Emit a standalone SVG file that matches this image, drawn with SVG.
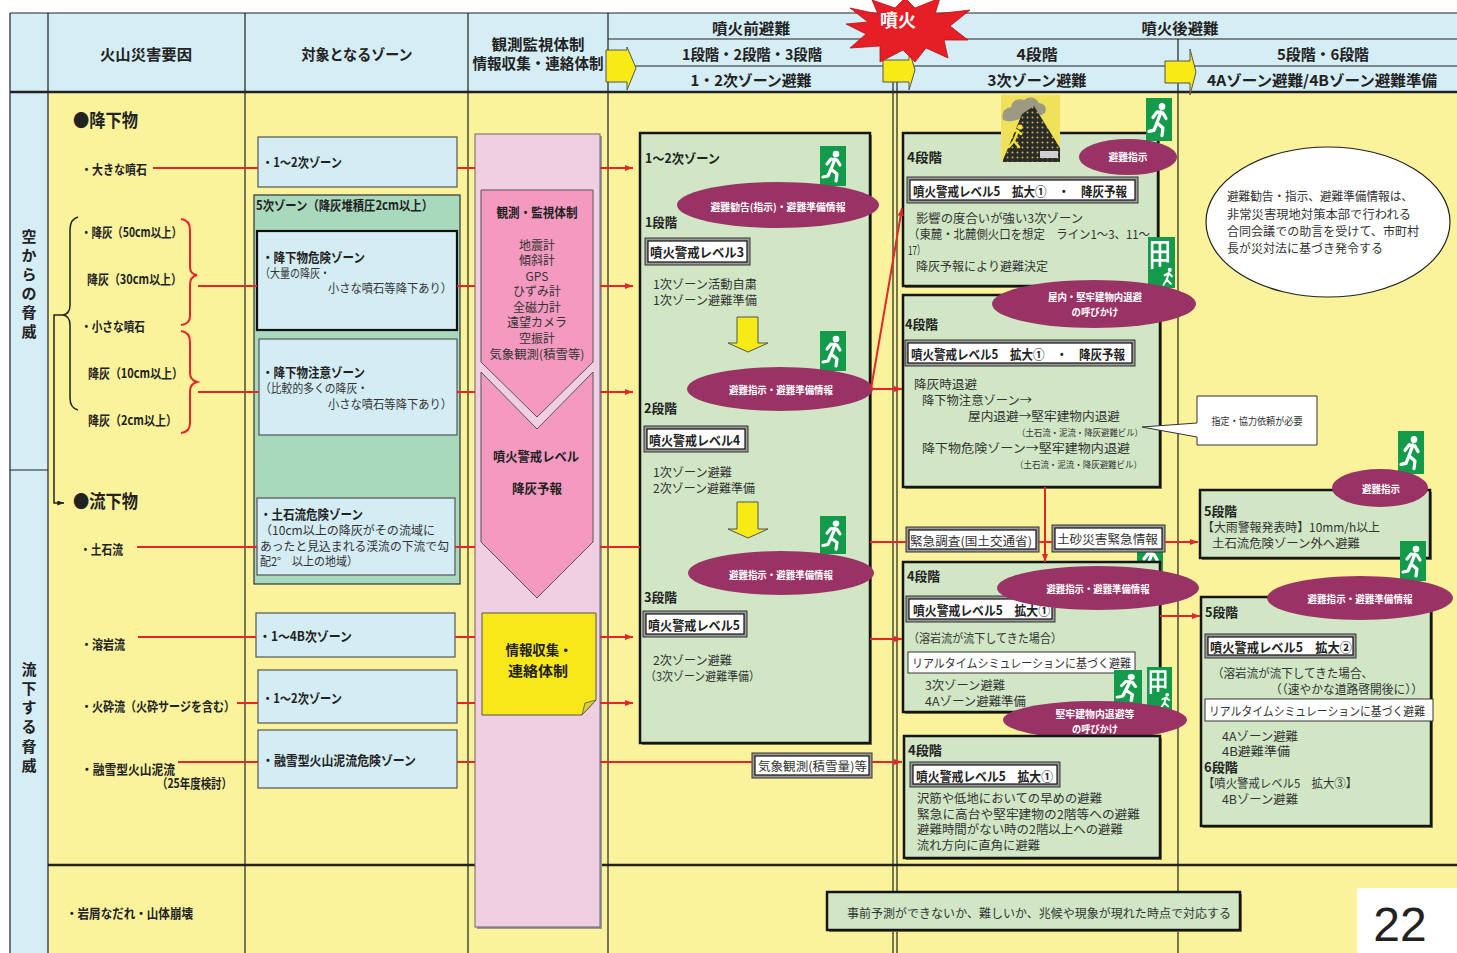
<svg xmlns="http://www.w3.org/2000/svg" width="1457" height="953" viewBox="0 0 1457 953">
<defs>
<style>
text{font-family:"Noto Sans CJK JP","Noto Sans CJK SC",sans-serif;dominant-baseline:central;fill:#222}
.h{font-size:15px;font-weight:700;text-anchor:middle}
.b{font-size:13px;font-weight:700}
.big{font-size:18px;font-weight:700}
.r{font-size:12px;font-weight:400;fill:#333}
.s{font-size:9px;font-weight:400;fill:#333}
.w{font-size:10px;font-weight:700;fill:#fff;text-anchor:middle}
.c{text-anchor:middle}
.vt{font-size:15px;font-weight:700;text-anchor:middle}
.red{stroke:#e8242b;stroke-width:2;fill:none}
.blk{stroke:#222;stroke-width:1.5;fill:none}
.zone{fill:#d4ecf3;stroke:#555;stroke-width:1.2}
.stage{fill:#d0e6c4;stroke:#151515;stroke-width:2.5}
.shadow{fill:#86863f}
.ell{fill:#993366}
.lvo{fill:#9a9a9a;stroke:#333;stroke-width:1}
.lvi{fill:#fff;stroke:#111;stroke-width:1.2}
.grid{stroke:#222;stroke-width:1.2;fill:none}
.thick{stroke:#222;stroke-width:2.6;fill:none}
.yarrow{fill:#f7ea15;stroke:#555;stroke-width:1}
.pinkc{fill:#f49ac0;stroke:#555;stroke-width:1}
.note{font-size:14px;font-weight:700;text-anchor:middle}
</style>
<marker id="ah" viewBox="0 0 8 6" refX="8" refY="3" markerWidth="8" markerHeight="6" markerUnits="userSpaceOnUse" orient="auto"><path d="M0,0L8,3L0,6z" fill="#e8242b"/></marker>
<marker id="ahk" viewBox="0 0 8 6" refX="8" refY="3" markerWidth="7" markerHeight="5" markerUnits="userSpaceOnUse" orient="auto"><path d="M0,0L8,3L0,6z" fill="#222"/></marker>
<symbol id="exit" viewBox="0 0 26 40" preserveAspectRatio="none">
<rect width="26" height="40" fill="#139a4a"/>
<circle cx="16" cy="8" r="3.3" fill="#fff"/>
<path d="M15,13 L11,23 M7,18 L11,13 L17,14 L20,19 M11,23 L17,28 L16,35 M11,23 L8,30 L3,31" stroke="#fff" stroke-width="3.2" fill="none" stroke-linecap="round" stroke-linejoin="round"/>
</symbol>
<symbol id="shelter" viewBox="0 0 26 48" preserveAspectRatio="none">
<rect width="26" height="48" fill="#139a4a"/>
<path d="M4,30 V5 H19 V24 M11.5,5 V28 M4,14 H19 M4,22 H19" stroke="#fff" stroke-width="2.6" fill="none"/>
<circle cx="21" cy="31" r="2" fill="#fff"/>
<path d="M20,34 L18,40 M16,36 L20,34 L23,37 M18,40 L22,44 M18,40 L15,45" stroke="#fff" stroke-width="2" fill="none" stroke-linecap="round"/>
</symbol>
<pattern id="dots" width="5" height="5" patternUnits="userSpaceOnUse"><rect width="5" height="5" fill="#2a2a2a"/><circle cx="2.5" cy="2.5" r="1" fill="#c9b940"/></pattern>
</defs>

<rect width="1457" height="953" fill="#fff"/>

<!-- table background -->
<g id="table">
<rect x="10" y="13" width="1447" height="79" fill="#d5edf5"/>
<rect x="10" y="92" width="38" height="861" fill="#d5edf5"/>
<rect x="48" y="92" width="1409" height="861" fill="#faf39c"/>
<path class="grid" d="M10,13 H1457 M608,39 H1457 M608,66 H1457 M10,13 V953 M48,13 V953 M245,13 V953 M468,13 V953 M608,13 V953 M1178,39 V953 M893,62 V953 M897,62 V953 M10,470 H48"/>
<path class="thick" d="M10,92 H1457 M48,865 H1457"/>
</g>

<!-- header -->
<g id="header">
<text class="h" x="146" y="53" textLength="92" lengthAdjust="spacingAndGlyphs">火山災害要因</text>
<text class="h" x="357" y="53" textLength="111" lengthAdjust="spacingAndGlyphs">対象となるゾーン</text>
<text class="h" x="538" y="43" textLength="93" lengthAdjust="spacingAndGlyphs">観測監視体制</text>
<text class="h" x="538" y="62" textLength="131" lengthAdjust="spacingAndGlyphs">情報収集・連絡体制</text>
<text class="h" x="751" y="27" textLength="78" lengthAdjust="spacingAndGlyphs">噴火前避難</text>
<text class="h" x="1180" y="27" textLength="77" lengthAdjust="spacingAndGlyphs">噴火後避難</text>
<text class="h" x="752" y="53" textLength="140" lengthAdjust="spacingAndGlyphs">1段階・2段階・3段階</text>
<text class="h" x="1037" y="53" textLength="41" lengthAdjust="spacingAndGlyphs">4段階</text>
<text class="h" x="1323" y="53" textLength="92" lengthAdjust="spacingAndGlyphs">5段階・6段階</text>
<text class="h" x="751" y="79" textLength="121" lengthAdjust="spacingAndGlyphs">1・2次ゾーン避難</text>
<text class="h" x="1037" y="79" textLength="99" lengthAdjust="spacingAndGlyphs">3次ゾーン避難</text>
<text class="h" x="1322" y="79" textLength="230" lengthAdjust="spacingAndGlyphs">4Aゾーン避難/4Bゾーン避難準備</text>
<path class="yarrow" d="M606,50 H627 V47 L636,68 L627,90 V82 H606 Z"/>
<path class="yarrow" d="M883,60 H909 V50 L915,70 L909,90 V82 H883 Z"/>
<path class="yarrow" d="M1165,61 H1190 V49 L1196,72 L1190,95 V83 H1165 Z"/>
<path d="M850,8 L878,14 L872,0 L895,8 L905,-2 L915,8 L940,-2 L935,14 L970,10 L950,26 L968,40 L944,40 L948,58 L926,48 L915,62 L903,50 L880,62 L880,46 L850,48 L866,34 L846,24 L868,22 Z" fill="#e61e25" stroke="#b3141a" stroke-width="0.8"/>
<text x="898" y="19" class="c" style="font-size:18px;font-weight:700;fill:#fff">噴火</text>
</g>

<!-- left-most category labels -->
<g id="category">
<text class="vt" x="29" y="235">空</text><text class="vt" x="29" y="254">か</text><text class="vt" x="29" y="273">ら</text><text class="vt" x="29" y="292">の</text><text class="vt" x="29" y="311">脅</text><text class="vt" x="29" y="330">威</text>
<text class="vt" x="29" y="668">流</text><text class="vt" x="29" y="687">下</text><text class="vt" x="29" y="706">す</text><text class="vt" x="29" y="725">る</text><text class="vt" x="29" y="745">脅</text><text class="vt" x="29" y="764">威</text>
</g>

<!-- hazard factors -->
<g id="factors">
<text class="big" x="73" y="119" textLength="65" lengthAdjust="spacingAndGlyphs">●降下物</text>
<text class="b" x="81" y="168" textLength="66" lengthAdjust="spacingAndGlyphs">・大きな噴石</text>
<text class="b" x="81" y="231" textLength="101" lengthAdjust="spacingAndGlyphs">・降灰（50cm以上）</text>
<text class="b" x="87" y="278" textLength="95" lengthAdjust="spacingAndGlyphs">降灰（30cm以上）</text>
<text class="b" x="81" y="325" textLength="64" lengthAdjust="spacingAndGlyphs">・小さな噴石</text>
<text class="b" x="88" y="372" textLength="95" lengthAdjust="spacingAndGlyphs">降灰（10cm以上）</text>
<text class="b" x="88" y="419" textLength="89" lengthAdjust="spacingAndGlyphs">降灰（2cm以上）</text>
<text class="big" x="73" y="500" textLength="65" lengthAdjust="spacingAndGlyphs">●流下物</text>
<text class="b" x="80" y="548" textLength="43" lengthAdjust="spacingAndGlyphs">・土石流</text>
<text class="b" x="81" y="643" textLength="44" lengthAdjust="spacingAndGlyphs">・溶岩流</text>
<text class="b" x="81" y="705" textLength="154" lengthAdjust="spacingAndGlyphs">・火砕流（火砕サージを含む）</text>
<text class="b" x="81" y="768" textLength="94" lengthAdjust="spacingAndGlyphs">・融雪型火山泥流</text>
<text class="b" x="157" y="782" textLength="75" lengthAdjust="spacingAndGlyphs">（25年度検討）</text>
<text class="b" x="66" y="912" textLength="127" lengthAdjust="spacingAndGlyphs">・岩屑なだれ・山体崩壊</text>
<path class="blk" d="M78,217 Q70,219 70,230 L70,305 Q70,314 63,315 Q70,316 70,325 L70,398 Q70,408 78,410"/>
<path class="blk" d="M63,315 H54 V503 H64" marker-end="url(#ahk)"/>
<path class="red" d="M181,219 Q190,220 190,230 L190,267 Q190,274 197,275 Q190,277 190,284 L190,316 Q190,324 181,325"/>
<path class="red" d="M181,331 Q190,332 190,342 L190,373 Q190,380 197,382 Q190,384 190,391 L190,423 Q190,432 181,433"/>
</g>

<!-- zone boxes -->
<g id="zone-1-2a">
<rect class="zone" x="258" y="137" width="199" height="50"/>
<text class="b" x="262" y="161" textLength="80" lengthAdjust="spacingAndGlyphs">・1～2次ゾーン</text>
</g>
<g id="zone-5">
<rect x="254" y="195" width="206" height="389" fill="#a9d9bd" stroke="#333" stroke-width="1.2"/>
<text class="b" x="256" y="204" textLength="177" lengthAdjust="spacingAndGlyphs">5次ゾーン（降灰堆積圧2cm以上）</text>
</g>
<g id="zone-fall-danger">
<rect x="257" y="231" width="200" height="99" fill="#d4ecf3" stroke="#111" stroke-width="2.2"/>
<text class="b" x="262" y="256" textLength="103" lengthAdjust="spacingAndGlyphs">・降下物危険ゾーン</text>
<text class="r" x="260" y="272" textLength="70" lengthAdjust="spacingAndGlyphs">（大量の降灰・</text>
<text class="r" x="328" y="287" textLength="124" lengthAdjust="spacingAndGlyphs">小さな噴石等降下あり）</text>
</g>
<g id="zone-fall-caution">
<rect class="zone" x="259" y="339" width="198" height="96"/>
<text class="b" x="262" y="371" textLength="103" lengthAdjust="spacingAndGlyphs">・降下物注意ゾーン</text>
<text class="r" x="260" y="387" textLength="108" lengthAdjust="spacingAndGlyphs">（比較的多くの降灰・</text>
<text class="r" x="328" y="403" textLength="124" lengthAdjust="spacingAndGlyphs">小さな噴石等降下あり）</text>
</g>
<g id="zone-debris">
<rect class="zone" x="257" y="498" width="198" height="77"/>
<text class="b" x="260" y="513" textLength="103" lengthAdjust="spacingAndGlyphs">・土石流危険ゾーン</text>
<text class="r" x="260" y="529" textLength="175" lengthAdjust="spacingAndGlyphs">（10cm以上の降灰がその流域に</text>
<text class="r" x="260" y="545" textLength="189" lengthAdjust="spacingAndGlyphs">あったと見込まれる渓流の下流で勾</text>
<text class="r" x="260" y="560" textLength="98" lengthAdjust="spacingAndGlyphs">配2°　以上の地域）</text>
</g>
<g id="zone-1-4b">
<rect class="zone" x="256" y="613" width="199" height="44"/>
<text class="b" x="259" y="635" textLength="93" lengthAdjust="spacingAndGlyphs">・1～4B次ゾーン</text>
</g>
<g id="zone-1-2b">
<rect class="zone" x="258" y="670" width="199" height="53"/>
<text class="b" x="262" y="697" textLength="80" lengthAdjust="spacingAndGlyphs">・1～2次ゾーン</text>
</g>
<g id="zone-lahar">
<rect class="zone" x="258" y="730" width="199" height="58"/>
<text class="b" x="262" y="759" textLength="154" lengthAdjust="spacingAndGlyphs">・融雪型火山泥流危険ゾーン</text>
</g>

<!-- monitoring column -->
<g id="monitoring">
<rect x="477" y="136" width="125" height="793" fill="#999"/>
<rect x="475" y="134" width="125" height="793" fill="#f0cfe3" stroke="#666" stroke-width="1"/>
<path class="pinkc" d="M481,190 H593 V362 L537,417 L481,362 Z"/>
<text class="b c" x="537" y="211" textLength="81" lengthAdjust="spacingAndGlyphs">観測・監視体制</text>
<text class="r c" x="537" y="244">地震計</text>
<text class="r c" x="537" y="259">傾斜計</text>
<text class="r c" x="537" y="275">GPS</text>
<text class="r c" x="537" y="290">ひずみ計</text>
<text class="r c" x="537" y="306">全磁力計</text>
<text class="r c" x="537" y="321">遠望カメラ</text>
<text class="r c" x="537" y="337">空振計</text>
<text class="r c" x="537" y="353" textLength="95" lengthAdjust="spacingAndGlyphs">気象観測(積雪等)</text>
</g>
<g id="alert-level">
<path class="pinkc" d="M481,372 L537,429 L593,372 V542 L537,598 L481,542 Z"/>
<text class="b c" x="536" y="455" textLength="86" lengthAdjust="spacingAndGlyphs">噴火警戒レベル</text>
<text class="b c" x="537" y="487" textLength="50" lengthAdjust="spacingAndGlyphs">降灰予報</text>
</g>
<g id="info-network">
<path d="M482,613 H596 V700 L582,715 H482 Z" fill="#f8e81a" stroke="#555" stroke-width="1"/>
<path d="M582,715 L585,703 L596,700 Z" fill="#d8cf40" stroke="#555" stroke-width="0.8"/>
<text class="note" x="539" y="649" textLength="67" lengthAdjust="spacingAndGlyphs">情報収集・</text>
<text class="note" x="538" y="670" textLength="60" lengthAdjust="spacingAndGlyphs">連絡体制</text>
</g>

<!-- stage 1-3 -->
<g id="stage-1-3">
<rect class="shadow" x="642" y="135" width="230" height="610"/>
<rect class="stage" x="640" y="133" width="230" height="610"/>
<text class="b" x="645" y="157" textLength="75" lengthAdjust="spacingAndGlyphs">1～2次ゾーン</text>
<text class="b" x="645" y="221" textLength="32" lengthAdjust="spacingAndGlyphs">1段階</text>
<rect class="lvo" x="645" y="238" width="105" height="27"/><rect class="lvi" x="648" y="241" width="99" height="21"/>
<text class="b" x="650" y="251" textLength="94" lengthAdjust="spacingAndGlyphs">噴火警戒レベル3</text>
<text class="r" x="653" y="283" textLength="104" lengthAdjust="spacingAndGlyphs">1次ゾーン活動自粛</text>
<text class="r" x="653" y="299" textLength="104" lengthAdjust="spacingAndGlyphs">1次ゾーン避難準備</text>
<path class="yarrow" d="M737,317 H758 V343 H768 L748,352 L728,343 H737 Z"/>
<text class="b" x="644" y="407" textLength="33" lengthAdjust="spacingAndGlyphs">2段階</text>
<rect class="lvo" x="644" y="426" width="104" height="26"/><rect class="lvi" x="647" y="429" width="98" height="20"/>
<text class="b" x="649" y="439" textLength="91" lengthAdjust="spacingAndGlyphs">噴火警戒レベル4</text>
<text class="r" x="653" y="471" textLength="79" lengthAdjust="spacingAndGlyphs">1次ゾーン避難</text>
<text class="r" x="653" y="487" textLength="102" lengthAdjust="spacingAndGlyphs">2次ゾーン避難準備</text>
<path class="yarrow" d="M737,502 H758 V529 H768 L748,538 L728,529 H737 Z"/>
<text class="b" x="644" y="596" textLength="33" lengthAdjust="spacingAndGlyphs">3段階</text>
<rect class="lvo" x="643" y="611" width="104" height="26"/><rect class="lvi" x="646" y="614" width="98" height="20"/>
<text class="b" x="648" y="624" textLength="92" lengthAdjust="spacingAndGlyphs">噴火警戒レベル5</text>
<text class="r" x="653" y="659" textLength="79" lengthAdjust="spacingAndGlyphs">2次ゾーン避難</text>
<text class="r" x="645" y="675" textLength="115" lengthAdjust="spacingAndGlyphs">（3次ゾーン避難準備）</text>
<use href="#exit" x="820" y="146" width="26" height="40"/>
<use href="#exit" x="820" y="331" width="26" height="40"/>
<use href="#exit" x="820" y="516" width="26" height="38"/>
<ellipse class="ell" cx="778" cy="205" rx="101" ry="23"/>
<text class="w" x="778" y="206" textLength="135" lengthAdjust="spacingAndGlyphs">避難勧告(指示)・避難準備情報</text>
<ellipse class="ell" cx="780" cy="389" rx="93" ry="22"/>
<text class="w" x="781" y="389" textLength="104" lengthAdjust="spacingAndGlyphs">避難指示・避難準備情報</text>
<ellipse class="ell" cx="781" cy="573" rx="93" ry="22"/>
<text class="w" x="781" y="574" textLength="104" lengthAdjust="spacingAndGlyphs">避難指示・避難準備情報</text>
</g>

<g id="weather-obs">
<rect class="lvo" x="752" y="753" width="120" height="25"/><rect class="lvi" x="755" y="756" width="114" height="19"/>
<text class="r" x="758" y="765" textLength="109" lengthAdjust="spacingAndGlyphs">気象観測(積雪量)等</text>
</g>

<!-- stage 4 : ash fall -->
<g id="stage4-ash">
<rect class="shadow" x="905" y="135" width="255" height="153"/>
<rect class="stage" x="903" y="133" width="255" height="153"/>
<g id="volcano-icon">
<rect x="1001" y="95" width="59" height="67" fill="#efe15a"/>
<path d="M1003,120 q-3,-11 8,-13 q2,-10 13,-7 q9,-6 15,3 q9,1 6,10 q-9,6 -21,3 q-11,8 -21,4z" fill="#9c9a80"/>
<polygon points="1003,160 1022,114 1034,106 1060,148 1060,162 1003,162" fill="url(#dots)"/>
<circle cx="1020" cy="127" r="2.6" fill="#f0e040"/>
<path d="M1018,131 L1014,141 M1010,134 L1016,130 L1021,134 M1014,141 L1019,147 M1014,141 L1009,147" stroke="#f0e040" stroke-width="2.4" fill="none" stroke-linecap="round"/>
<rect x="1040" y="151" width="18" height="7" fill="#d0d0d0"/>
</g>
<text class="b" x="907" y="156" textLength="35" lengthAdjust="spacingAndGlyphs">4段階</text>
<rect class="lvo" x="907" y="177" width="231" height="26"/><rect class="lvi" x="910" y="180" width="225" height="20"/>
<text class="b" x="913" y="190" textLength="214" lengthAdjust="spacingAndGlyphs">噴火警戒レベル5　拡大①　・　降灰予報</text>
<text class="r" x="916" y="217" textLength="167" lengthAdjust="spacingAndGlyphs">影響の度合いが強い3次ゾーン</text>
<text class="r" x="908" y="233" textLength="242" lengthAdjust="spacingAndGlyphs">（東麓・北麓側火口を想定　ライン1～3、11～</text>
<text class="r" x="908" y="249" textLength="17" lengthAdjust="spacingAndGlyphs">17）</text>
<text class="r" x="916" y="265" textLength="132" lengthAdjust="spacingAndGlyphs">降灰予報により避難決定</text>
<use href="#exit" x="1146" y="98" width="26" height="43"/>
<use href="#shelter" x="1148" y="237" width="27" height="51"/>
<ellipse class="ell" cx="1128" cy="157" rx="49" ry="18"/>
<text class="w" x="1128" y="156" textLength="39" lengthAdjust="spacingAndGlyphs">避難指示</text>
</g>

<g id="stage4-shelter">
<rect class="shadow" x="905" y="297" width="257" height="192"/>
<rect class="stage" x="903" y="295" width="257" height="192"/>
<text class="b" x="905" y="323" textLength="33" lengthAdjust="spacingAndGlyphs">4段階</text>
<rect class="lvo" x="905" y="340" width="230" height="26"/><rect class="lvi" x="908" y="343" width="224" height="20"/>
<text class="b" x="911" y="353" textLength="214" lengthAdjust="spacingAndGlyphs">噴火警戒レベル5　拡大①　・　降灰予報</text>
<text class="r" x="914" y="383" textLength="63" lengthAdjust="spacingAndGlyphs">降灰時退避</text>
<text class="r" x="922" y="399" textLength="110" lengthAdjust="spacingAndGlyphs">降下物注意ゾーン→</text>
<text class="r" x="968" y="415" textLength="152" lengthAdjust="spacingAndGlyphs">屋内退避→堅牢建物内退避</text>
<text class="s" x="1017" y="432" textLength="126" lengthAdjust="spacingAndGlyphs">（土石流・泥流・降灰避難ビル）</text>
<text class="r" x="922" y="447" textLength="208" lengthAdjust="spacingAndGlyphs">降下物危険ゾーン→堅牢建物内退避</text>
<text class="s" x="1015" y="464" textLength="127" lengthAdjust="spacingAndGlyphs">（土石流・泥流・降灰避難ビル）</text>
<ellipse class="ell" cx="1094" cy="304" rx="102" ry="24"/>
<text class="w" x="1095" y="296" textLength="94" lengthAdjust="spacingAndGlyphs">屋内・堅牢建物内退避</text>
<text class="w" x="1095" y="311" textLength="47" lengthAdjust="spacingAndGlyphs">の呼びかけ</text>
</g>

<g id="callout">
<path d="M1197,396 H1317 V445 H1197 V437 L1142,427 L1197,423 Z" fill="#fff" stroke="#333" stroke-width="1"/>
<text class="c" x="1257" y="420" style="font-size:10.5px;fill:#333" textLength="91" lengthAdjust="spacingAndGlyphs">指定・協力依頼が必要</text>
</g>

<g id="emergency-survey">
<rect class="lvo" x="906" y="527" width="133" height="25"/><rect class="lvi" x="909" y="530" width="127" height="19"/>
<text class="r" x="910" y="540" textLength="122" lengthAdjust="spacingAndGlyphs">緊急調査(国土交通省)</text>
</g>
<use href="#exit" x="1137" y="540" width="26" height="42"/>
<g id="sediment-info">
<rect class="lvo" x="1052" y="525" width="113" height="27"/><rect class="lvi" x="1055" y="528" width="107" height="21"/>
<text class="r" x="1057" y="538" textLength="101" lengthAdjust="spacingAndGlyphs">土砂災害緊急情報</text>
</g>

<!-- stage 4 : lava flow -->
<g id="stage4-lava">
<rect class="shadow" x="905" y="564" width="257" height="150"/>
<rect class="stage" x="903" y="562" width="257" height="150"/>
<text class="b" x="907" y="575" textLength="33" lengthAdjust="spacingAndGlyphs">4段階</text>
<rect class="lvo" x="906" y="596" width="149" height="26"/><rect class="lvi" x="909" y="599" width="143" height="20"/>
<text class="b" x="913" y="609" textLength="137" lengthAdjust="spacingAndGlyphs">噴火警戒レベル5　拡大①</text>
<text class="r" x="908" y="637" textLength="154" lengthAdjust="spacingAndGlyphs">（溶岩流が流下してきた場合）</text>
<rect x="908" y="652" width="227" height="21" fill="#fff" stroke="#333" stroke-width="1"/>
<text class="r" x="912" y="662" textLength="219" lengthAdjust="spacingAndGlyphs">リアルタイムシミュレーションに基づく避難</text>
<text class="r" x="925" y="684" textLength="80" lengthAdjust="spacingAndGlyphs">3次ゾーン避難</text>
<text class="r" x="925" y="700" textLength="101" lengthAdjust="spacingAndGlyphs">4Aゾーン避難準備</text>
<use href="#exit" x="1114" y="670" width="28" height="35"/>
<use href="#shelter" x="1147" y="667" width="25" height="43"/>
<ellipse class="ell" cx="1098" cy="588" rx="101" ry="22"/>
<text class="w" x="1098" y="588" textLength="103" lengthAdjust="spacingAndGlyphs">避難指示・避難準備情報</text>
<ellipse class="ell" cx="1095" cy="720" rx="92" ry="19"/>
<text class="w" x="1095" y="713" textLength="79" lengthAdjust="spacingAndGlyphs">堅牢建物内退避等</text>
<text class="w" x="1095" y="728" textLength="46" lengthAdjust="spacingAndGlyphs">の呼びかけ</text>
</g>

<!-- stage 4 : lahar -->
<g id="stage4-lahar">
<rect class="shadow" x="906" y="738" width="256" height="122"/>
<rect class="stage" x="904" y="736" width="256" height="122"/>
<text class="b" x="908" y="749" textLength="34" lengthAdjust="spacingAndGlyphs">4段階</text>
<rect class="lvo" x="910" y="762" width="150" height="25"/><rect class="lvi" x="913" y="765" width="144" height="19"/>
<text class="b" x="916" y="775" textLength="137" lengthAdjust="spacingAndGlyphs">噴火警戒レベル5　拡大①</text>
<text class="r" x="917" y="797" textLength="185" lengthAdjust="spacingAndGlyphs">沢筋や低地においての早めの避難</text>
<text class="r" x="917" y="813" textLength="223" lengthAdjust="spacingAndGlyphs">緊急に高台や堅牢建物の2階等への避難</text>
<text class="r" x="917" y="828" textLength="206" lengthAdjust="spacingAndGlyphs">避難時間がない時の2階以上への避難</text>
<text class="r" x="917" y="844" textLength="123" lengthAdjust="spacingAndGlyphs">流れ方向に直角に避難</text>
</g>

<!-- note on issuing evacuation orders -->
<g id="note">
<ellipse cx="1328" cy="222" rx="122" ry="75" fill="#fff" stroke="#222" stroke-width="1.2"/>
<text class="r" x="1227" y="195" textLength="186" lengthAdjust="spacingAndGlyphs">避難勧告・指示、避難準備情報は、</text>
<text class="r" x="1227" y="213" textLength="184" lengthAdjust="spacingAndGlyphs">非常災害現地対策本部で行われる</text>
<text class="r" x="1227" y="230" textLength="192" lengthAdjust="spacingAndGlyphs">合同会議での助言を受けて、市町村</text>
<text class="r" x="1227" y="247" textLength="156" lengthAdjust="spacingAndGlyphs">長が災対法に基づき発令する</text>
</g>

<!-- stage 5 : heavy rain -->
<g id="stage5-rain">
<rect class="shadow" x="1202" y="492" width="230" height="68"/>
<rect class="stage" x="1200" y="490" width="230" height="68"/>
<text class="b" x="1204" y="510" textLength="33" lengthAdjust="spacingAndGlyphs">5段階</text>
<text class="r" x="1202" y="526" textLength="178" lengthAdjust="spacingAndGlyphs">【大雨警報発表時】10mm/h以上</text>
<text class="r" x="1212" y="542" textLength="148" lengthAdjust="spacingAndGlyphs">土石流危険ゾーン外へ避難</text>
<use href="#exit" x="1398" y="431" width="26" height="43"/>
<ellipse class="ell" cx="1380" cy="488" rx="48" ry="19"/>
<text class="w" x="1381" y="488" textLength="38" lengthAdjust="spacingAndGlyphs">避難指示</text>
</g>

<!-- stage 5-6 : lava flow -->
<g id="stage5-6-lava">
<rect class="shadow" x="1203" y="599" width="230" height="229"/>
<rect class="stage" x="1201" y="597" width="230" height="229"/>
<use href="#exit" x="1400" y="541" width="26" height="40"/>
<text class="b" x="1205" y="611" textLength="33" lengthAdjust="spacingAndGlyphs">5段階</text>
<rect class="lvo" x="1205" y="634" width="151" height="24"/><rect class="lvi" x="1208" y="637" width="145" height="18"/>
<text class="b" x="1210" y="646" textLength="142" lengthAdjust="spacingAndGlyphs">噴火警戒レベル5　拡大②</text>
<text class="r" x="1212" y="672" textLength="161" lengthAdjust="spacingAndGlyphs">（溶岩流が流下してきた場合、</text>
<text class="r" x="1270" y="688" textLength="153" lengthAdjust="spacingAndGlyphs">（（速やかな道路啓開後に））</text>
<rect x="1205" y="699" width="228" height="22" fill="#fff" stroke="#333" stroke-width="1"/>
<text class="r" x="1209" y="710" textLength="216" lengthAdjust="spacingAndGlyphs">リアルタイムシミュレーションに基づく避難</text>
<text class="r" x="1222" y="735" textLength="76" lengthAdjust="spacingAndGlyphs">4Aゾーン避難</text>
<text class="r" x="1222" y="750" textLength="68" lengthAdjust="spacingAndGlyphs">4B避難準備</text>
<text class="b" x="1204" y="766" textLength="34" lengthAdjust="spacingAndGlyphs">6段階</text>
<text class="r" x="1203" y="782" textLength="154" lengthAdjust="spacingAndGlyphs">【噴火警戒レベル5　拡大③】</text>
<text class="r" x="1222" y="798" textLength="76" lengthAdjust="spacingAndGlyphs">4Bゾーン避難</text>
<ellipse class="ell" cx="1360" cy="598" rx="93" ry="22"/>
<text class="w" x="1360" y="598" textLength="105" lengthAdjust="spacingAndGlyphs">避難指示・避難準備情報</text>
</g>

<!-- landslide / sector collapse response -->
<g id="collapse-note">
<rect class="shadow" x="829" y="894" width="413" height="38"/>
<rect class="stage" x="827" y="892" width="413" height="38"/>
<text class="r" x="1039" y="912" style="text-anchor:middle" textLength="384" lengthAdjust="spacingAndGlyphs">事前予測ができないか、難しいか、兆候や現象が現れた時点で対応する</text>
</g>

<g id="page-number">
<rect x="1357" y="888" width="100" height="65" fill="#fff"/>
<text x="1400" y="924" style="font-family:'Liberation Sans',Arial,sans-serif;font-size:48px;text-anchor:middle;fill:#222">22</text>
</g>

<!-- connectors -->
<g id="connectors">
<path class="red" d="M153,168 H258 M457,168 H475"/>
<path class="red" d="M600,168 H633" marker-end="url(#ah)"/>
<path class="red" d="M198,286 H257 M457,286 H475"/>
<path class="red" d="M600,286 H633" marker-end="url(#ah)"/>
<path class="red" d="M198,392 H259 M457,392 H475"/>
<path class="red" d="M600,392 H633" marker-end="url(#ah)"/>
<path class="red" d="M137,547 H257 M455,547 H475 M600,547 H640"/>
<path class="red" d="M138,637 H256 M455,637 H475"/>
<path class="red" d="M600,637 H633" marker-end="url(#ah)"/>
<path class="red" d="M237,703 H258 M457,703 H475"/>
<path class="red" d="M600,703 H633" marker-end="url(#ah)"/>
<path class="red" d="M178,762 H258 M457,762 H475 M600,762 H752"/>
<path class="red" d="M872,762 H902" marker-end="url(#ah)"/>
<path class="red" d="M871,389 L902,208" marker-end="url(#ah)"/>
<path class="red" d="M871,389 H902" marker-end="url(#ah)"/>
<path class="red" d="M870,542 H906 M1039,542 H1052"/>
<path class="red" d="M1165,542 H1198" marker-end="url(#ah)"/>
<path class="red" d="M870,639 H902" marker-end="url(#ah)"/>
<path class="red" d="M1045,487 V562" marker-end="url(#ah)"/>
<path class="red" d="M1160,616 H1200" marker-end="url(#ah)"/>
</g>
</svg>
